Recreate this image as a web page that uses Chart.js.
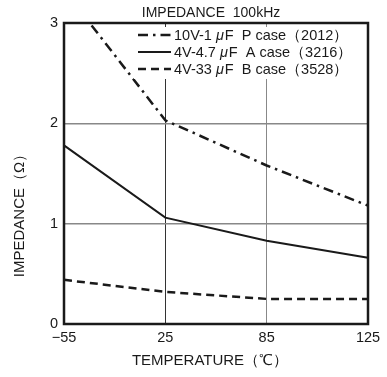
<!DOCTYPE html>
<html>
<head>
<meta charset="utf-8">
<script src="https://cdn.jsdelivr.net/npm/chart.js@4.4.1/dist/chart.umd.min.js"></script>
<style>
  html, body { margin: 0; padding: 0; background: #fff; }
  canvas { display: block; }
</style>
</head>
<body>
<canvas id="impChart" width="387" height="377"></canvas>
<script>
// Temperature categories (evenly spaced on the original chart)
const temperatures = ['\u221255', '25', '85', '125'];

// Impedance in ohms
const pCase2012 = [3.33, 2.03, 1.58, 1.18];
const aCase3216 = [1.78, 1.06, 0.83, 0.66];
const bCase3528 = [0.44, 0.32, 0.25, 0.25];

const yTicks = [0, 1, 2, 3];

const seriesNames = [
    ['10V-1', '\u03bc', 'F  P case\uff082012\uff09'],
    ['4V-4.7', '\u03bc', 'F  A case\uff083216\uff09'],
    ['4V-33', '\u03bc', 'F  B case\uff083528\uff09']
];

const FONT = '"Liberation Sans", Arial, sans-serif';
const INK = '#1a1a1a';

// Frame, titles and the boxed legend drawn on top
const decorPlugin = {
    id: 'decor',
    afterDraw(chart) {
        const ctx = chart.ctx;
        const a = chart.chartArea;
        ctx.save();

        // legend box (white, hides gridlines underneath)
        ctx.fillStyle = '#fff';
        ctx.fillRect(134, 27, 218, 52);
        const ds = chart.data.datasets;
        ds.forEach((d, i) => {
            const y = 35 + i * 17;
            ctx.strokeStyle = INK;
            ctx.lineWidth = d.borderWidth;
            ctx.setLineDash(d.borderDash || []);
            ctx.beginPath();
            ctx.moveTo(138, y);
            ctx.lineTo(171, y);
            ctx.stroke();
            ctx.setLineDash([]);

            let x = 174;
            ctx.fillStyle = INK;
            ctx.textBaseline = 'middle';
            ctx.textAlign = 'left';
            seriesNames[i].forEach((part, k) => {
                ctx.font = (k === 1 ? 'italic ' : '') + '14.5px ' + FONT;
                ctx.fillText(part, x, y + 1);
                x += ctx.measureText(part).width + (k === 0 ? 4 : 1);
            });
        });

        // plot frame
        ctx.strokeStyle = INK;
        ctx.lineWidth = 2.5;
        ctx.strokeRect(a.left, a.top, a.right - a.left, a.bottom - a.top);

        // titles
        ctx.fillStyle = INK;
        ctx.font = '14px ' + FONT;
        ctx.textAlign = 'center';
        ctx.textBaseline = 'middle';
        ctx.fillText('IMPEDANCE  100kHz', 211, 13);
        ctx.font = '15px ' + FONT;
        ctx.fillText('TEMPERATURE\uff08\u2103\uff09', 210, 361);

        ctx.translate(20, 212);
        ctx.rotate(-Math.PI / 2);
        ctx.fillText('IMPEDANCE\uff08\u03a9\uff09', 0, 0);
        ctx.restore();
    }
};

new Chart(document.getElementById('impChart'), {
    type: 'line',
    data: {
        labels: temperatures,
        datasets: [
            {
                label: '10V-1\u03bcF P case (2012)',
                data: pCase2012,
                borderColor: INK,
                borderWidth: 2.5,
                borderDash: [10, 5, 2.5, 5]
            },
            {
                label: '4V-4.7\u03bcF A case (3216)',
                data: aCase3216,
                borderColor: INK,
                borderWidth: 2
            },
            {
                label: '4V-33\u03bcF B case (3528)',
                data: bCase3528,
                borderColor: INK,
                borderWidth: 2.5,
                borderDash: [8, 5]
            }
        ]
    },
    options: {
        responsive: false,
        animation: false,
        layout: { padding: { top: 23, right: 19, left: 0, bottom: 0 } },
        elements: { point: { radius: 0 }, line: { tension: 0 } },
        plugins: {
            legend: { display: false },
            title: { display: false },
            tooltip: { enabled: false }
        },
        scales: {
            x: {
                type: 'category',
                offset: false,
                border: { display: false },
                grid: {
                    drawTicks: false,
                    lineWidth: 1,
                    color: c => c.index === 1 ? '#333' : (c.index === 2 ? '#888' : 'rgba(0,0,0,0)')
                },
                ticks: {
                    padding: 5,
                    color: INK,
                    font: { family: FONT, size: 14.5 }
                },
                afterFit: s => { s.height = 53; }
            },
            y: {
                min: 0,
                max: 3,
                border: { display: false },
                grid: {
                    drawTicks: false,
                    lineWidth: 1.5,
                    color: c => (c.tick.value === 1 || c.tick.value === 2) ? '#888' : 'rgba(0,0,0,0)'
                },
                afterBuildTicks: s => { s.ticks = yTicks.map(v => ({ value: v })); },
                ticks: {
                    padding: 6,
                    color: INK,
                    font: { family: FONT, size: 14.5 }
                },
                afterFit: s => { s.width = 64; }
            }
        }
    },
    plugins: [decorPlugin]
});
</script>
</body>
</html>
